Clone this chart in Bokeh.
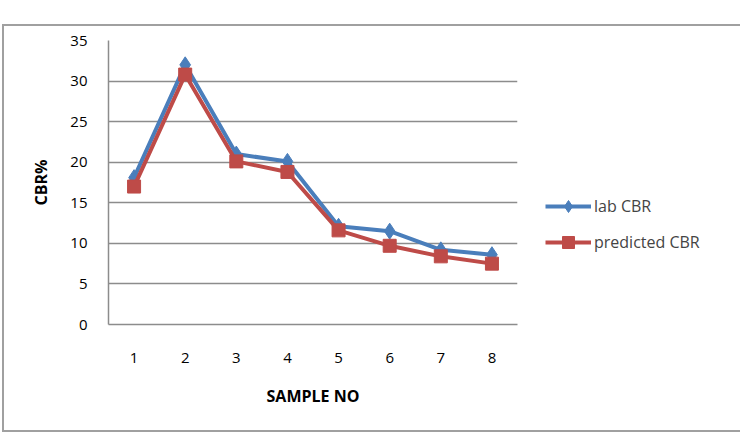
from bokeh.plotting import figure
from bokeh.models import Legend, LegendItem, FixedTicker
from bokeh.embed import file_html
from bokeh.resources import INLINE

samples = ["1", "2", "3", "4", "5", "6", "7", "8"]
lab_cbr = [18.1, 32.0, 21.0, 20.1, 12.1, 11.5, 9.2, 8.6]
predicted_cbr = [17.0, 30.8, 20.1, 18.8, 11.6, 9.7, 8.4, 7.5]
y_ticks = [0, 5, 10, 15, 20, 25, 30, 35]

BLUE = "#4a7ebb"
RED = "#be4b48"
GRID = "#8c8c8c"
FONT = "Open Sans"

p = figure(frame_width=409, frame_height=284, x_range=samples, y_range=(0, 35),
           output_backend="svg", toolbar_location=None,
           min_border_left=104, min_border_right=214,
           min_border_top=14, min_border_bottom=106,
           margin=(26, 0, 0, 4),
           styles={"outline": "2px solid #a0a0a0"})
p.outline_line_color = None
p.background_fill_color = "white"
p.border_fill_color = "white"

p.xgrid.grid_line_color = None
p.ygrid.grid_line_color = GRID
p.ygrid.grid_line_width = 1.5
p.yaxis.ticker = FixedTicker(ticks=y_ticks)

for ax in (p.xaxis[0], p.yaxis[0]):
    ax.axis_line_color = GRID
    ax.axis_line_width = 1.5
    ax.major_tick_line_color = None
    ax.minor_tick_line_color = None
    ax.major_label_text_font = FONT
    ax.major_label_text_font_size = "15px"
    ax.major_label_text_color = "black"
    ax.axis_label_text_font = FONT
    ax.axis_label_text_font_size = "16px"
    ax.axis_label_text_font_style = "bold"
    ax.axis_label_text_color = "black"

p.xaxis.axis_label = "SAMPLE NO"
p.yaxis.axis_label = "CBR%"
p.xaxis.major_label_standoff = 22
p.yaxis.major_label_standoff = 15
p.xaxis.axis_label_standoff = 19
p.yaxis.axis_label_standoff = 15

l1 = p.line(samples, lab_cbr, line_color=BLUE, line_width=4)
m1 = p.scatter(samples, lab_cbr, marker="diamond", size=16, fill_color=BLUE, line_color=BLUE)
l2 = p.line(samples, predicted_cbr, line_color=RED, line_width=4)
m2 = p.scatter(samples, predicted_cbr, marker="square", size=13, fill_color=RED, line_color=RED)

legend = Legend(items=[LegendItem(label="lab CBR", renderers=[l1, m1]),
                       LegendItem(label="predicted CBR", renderers=[l2, m2])],
                location="top_left", border_line_color=None,
                title=" ", title_text_font_size="10px", title_standoff=112,
                background_fill_alpha=0, padding=0, margin=28, spacing=6,
                glyph_width=46, glyph_height=30, label_standoff=3,
                label_text_font=FONT, label_text_font_size="16px")
p.add_layout(legend, "right")

open("out.html", "w").write(file_html(p, INLINE))
